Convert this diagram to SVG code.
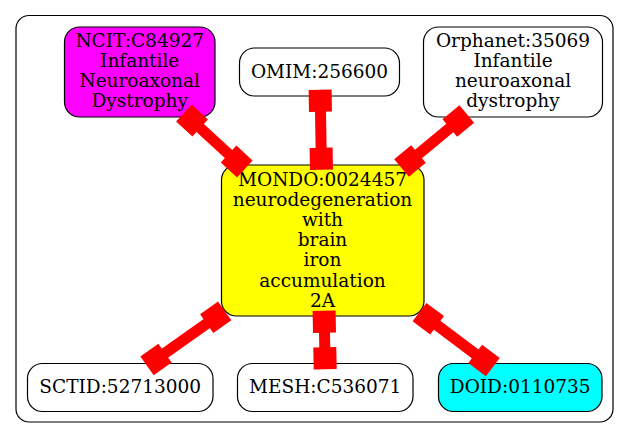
<svg xmlns="http://www.w3.org/2000/svg" width="629" height="439" viewBox="0 0 629 439">
<style>
.node rect{stroke:#000;stroke-width:1.2}
text{font-family:"DejaVu Serif","Liberation Serif",serif;font-size:18.5px;text-anchor:middle;fill:#000}
.shaft{stroke:#f00;stroke-width:11;fill:none}
.tee{fill:#f00}
</style>
<defs>
<rect id="tee" x="-11" y="-11.5" width="22" height="23" fill="#f00"/>
</defs>
<rect id="cluster" x="16" y="15.5" width="597" height="406.5" rx="13" fill="#fff" stroke="#000" stroke-width="1.2"/>
<g id="ncit" class="node">
<rect x="64.5" y="27" width="150.5" height="90" rx="15" fill="#ff00ff"/>
<text x="139.7" y="46.7">NCIT:C84927</text>
<text x="139.7" y="66.7">Infantile</text>
<text x="139.7" y="86.7">Neuroaxonal</text>
<text x="139.7" y="106.7">Dystrophy</text>
</g>
<g id="omim" class="node">
<rect x="239.5" y="48" width="160" height="48" rx="15" fill="#fff"/>
<text x="319.5" y="78">OMIM:256600</text>
</g>
<g id="orphanet" class="node">
<rect x="423.5" y="27" width="179" height="90" rx="15" fill="#fff"/>
<text x="513" y="46.7">Orphanet:35069</text>
<text x="513" y="66.7">Infantile</text>
<text x="513" y="86.7">neuroaxonal</text>
<text x="513" y="106.7">dystrophy</text>
</g>
<g id="mondo" class="node">
<rect x="221.5" y="165" width="202.5" height="151" rx="15" fill="#ffff00"/>
<text x="322.5" y="186">MONDO:0024457</text>
<text x="322.5" y="206.1">neurodegeneration</text>
<text x="322.5" y="226.2">with</text>
<text x="322.5" y="246.3">brain</text>
<text x="322.5" y="266.4">iron</text>
<text x="322.5" y="286.5">accumulation</text>
<text x="322.5" y="306.6">2A</text>
</g>
<g id="sctid" class="node">
<rect x="27.5" y="363.5" width="185.5" height="48" rx="15" fill="#fff"/>
<text x="120.2" y="393">SCTID:52713000</text>
</g>
<g id="mesh" class="node">
<rect x="237.5" y="363.5" width="175.5" height="48" rx="15" fill="#fff"/>
<text x="325.2" y="393">MESH:C536071</text>
</g>
<g id="doid" class="node">
<rect x="438.5" y="363.5" width="163.5" height="48" rx="15" fill="#00ffff"/>
<text x="520.2" y="393">DOID:0110735</text>
</g>
<g id="connectors">
<g id="e-ncit">
<line class="shaft" x1="192" y1="120.5" x2="236.7" y2="161.5"/>
<use href="#tee" transform="translate(192 120.5) rotate(42.5)"/>
<use href="#tee" transform="translate(236.7 161.5) rotate(42.5)"/>
</g>
<g id="e-omim">
<line class="shaft" x1="320.3" y1="100.8" x2="321.3" y2="158.7"/>
<use href="#tee" transform="translate(320.3 100.8) rotate(89)"/>
<use href="#tee" transform="translate(321.3 158.7) rotate(89)"/>
</g>
<g id="e-orphanet">
<line class="shaft" x1="458.3" y1="121" x2="410" y2="161"/>
<use href="#tee" transform="translate(458.3 121) rotate(140.4)"/>
<use href="#tee" transform="translate(410 161) rotate(140.4)"/>
</g>
<g id="e-sctid">
<line class="shaft" x1="215.7" y1="317.3" x2="156" y2="359.5"/>
<use href="#tee" transform="translate(215.7 317.3) rotate(144.7)"/>
<use href="#tee" transform="translate(156 359.5) rotate(144.7)"/>
</g>
<g id="e-mesh">
<line class="shaft" x1="324.3" y1="321.7" x2="325" y2="358.3"/>
<use href="#tee" transform="translate(324.3 321.7) rotate(88.9)"/>
<use href="#tee" transform="translate(325 358.3) rotate(88.9)"/>
</g>
<g id="e-doid">
<line class="shaft" x1="428.3" y1="318.7" x2="484" y2="360.5"/>
<use href="#tee" transform="translate(428.3 318.7) rotate(36.9)"/>
<use href="#tee" transform="translate(484 360.5) rotate(36.9)"/>
</g>
</g>
</svg>
